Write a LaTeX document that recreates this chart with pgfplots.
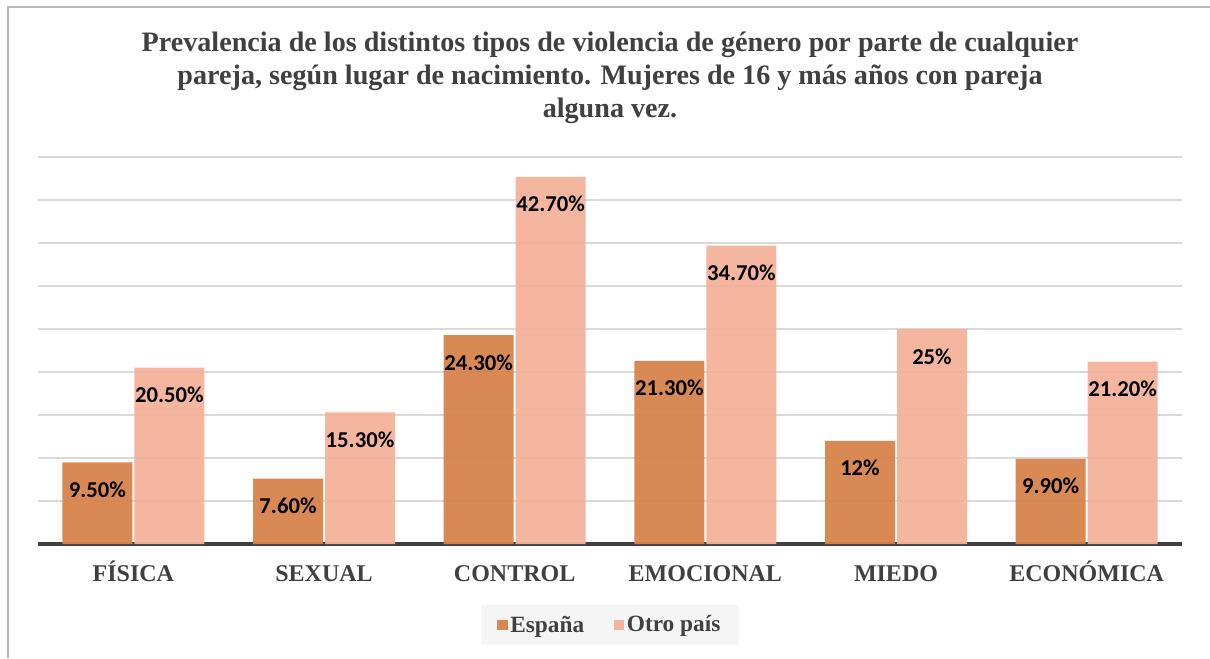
\documentclass[border=0pt]{standalone}
\usepackage{fontspec}
\setmainfont{Liberation Serif}
\newfontfamily\carlito{Carlito}
\usepackage{pgfplots}
\pgfplotsset{compat=1.18}
\definecolor{esp}{HTML}{D6834B}
\definecolor{otro}{HTML}{F4B29B}
\definecolor{txt}{HTML}{404040}
\definecolor{grd}{HTML}{D9D9D9}
\begin{document}
\begin{tikzpicture}
\path[use as bounding box] (0,0) rectangle (907.5pt,493.5pt);
\draw[black!28, line width=1.5pt] (6pt,0pt) -- (6pt,488.25pt) -- (907.5pt,488.25pt);
\node[font=\bfseries\fontsize{21.1}{24.75}\selectfont, text=txt, align=center] at (457.5pt,435pt)
 {Prevalencia de los distintos tipos de violencia de género por parte de cualquier\\
  pareja, según lugar de nacimiento. Mujeres de 16 y más años con pareja\\
  alguna vez.};
\begin{axis}[
  at={(28.5pt,85.5pt)}, anchor=south west,
  width=858pt, height=290.25pt, scale only axis,
  xmin=-0.5, xmax=5.5, ymin=0, ymax=45,
  ybar, bar width=52.5pt,
  ytick={5,10,...,45}, yticklabels={},
  ymajorgrids, grid style={grd, line width=1pt},
  axis x line*=bottom, axis y line*=left,
  x axis line style={txt, line width=2.5pt, -},
  y axis line style={draw=none},
  xtick={0,...,5}, major tick length=0pt, xtick style={draw=none}, ytick style={draw=none},
  xticklabels={FÍSICA, SEXUAL, CONTROL, EMOCIONAL, MIEDO, ECONÓMICA},
  xticklabel style={font=\bfseries\fontsize{18}{20}\selectfont, text=txt, anchor=base, yshift=-27.75pt},
  point meta=explicit symbolic,
  nodes near coords,
  nodes near coords style={anchor=center, yshift=-20.5pt, font=\carlito\bfseries\fontsize{17}{20}\selectfont, text=black, text opacity=1},
  legend style={at={(0.5,-0.209)}, anchor=center, legend columns=2, fill=black!4, draw=none,
    inner xsep=12pt, inner ysep=6pt,
    font=\bfseries\fontsize{17.5}{20}\selectfont, text=txt,
    /tikz/every even column/.append style={column sep=20pt}},
  legend image code/.code={\fill[#1] (0pt,-4pt) rectangle (8pt,4pt);},
]
\addplot[fill=esp, draw=none, fill opacity=0.95, bar shift=-27pt] coordinates {
 (0,9.5) [9.50\%] (1,7.6) [7.60\%] (2,24.3) [24.30\%] (3,21.3) [21.30\%] (4,12) [12\%] (5,9.9) [9.90\%]};
\addplot[fill=otro, draw=none, fill opacity=0.95, bar shift=27pt] coordinates {
 (0,20.5) [20.50\%] (1,15.3) [15.30\%] (2,42.7) [42.70\%] (3,34.7) [34.70\%] (4,25) [25\%] (5,21.2) [21.20\%]};
\legend{España, Otro país}
\end{axis}
\end{tikzpicture}
\end{document}
